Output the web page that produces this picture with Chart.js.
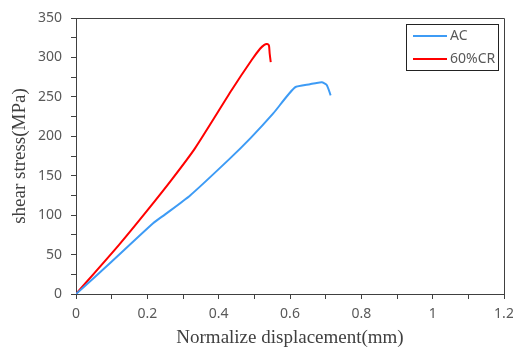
<!DOCTYPE html>
<html>
<head>
<meta charset="utf-8">
<script src="https://cdn.jsdelivr.net/npm/chart.js@4/dist/chart.umd.min.js"></script>
<style>
  html, body { margin: 0; padding: 0; background: #fff; }
  #wrap { width: 513px; height: 349px; }
</style>
</head>
<body>
<div id="wrap"><canvas id="c" width="513" height="349"></canvas></div>
<script>
// AC curve
const acX = [0, 0.095, 0.217, 0.25, 0.32, 0.432, 0.49, 0.553, 0.614, 0.656, 0.689, 0.703, 0.714];
const acY = [0, 39, 90, 101, 125, 172, 198, 229, 262, 266, 268.5, 265, 252];
// 60%CR curve
const crX = [0, 0.12, 0.2, 0.27, 0.334, 0.437, 0.493, 0.516, 0.528, 0.536, 0.541, 0.543, 0.546];
const crY = [0, 62, 106, 146, 185, 259, 297, 311, 316, 317, 315, 305, 294];

const xTickLabels = ['0', '0.2', '0.4', '0.6', '0.8', '1', '1.2'];
const yTickLabels = ['0', '50', '100', '150', '200', '250', '300', '350'];

const pts = (xs, ys) => xs.map((x, i) => ({ x: x, y: ys[i] }));

const axisColor = '#404040';
const tickFont = { family: 'Noto Sans', size: 14 };
const titleFont = { family: 'Liberation Serif', size: 19 };

const boxAndLegend = {
  id: 'boxAndLegend',
  afterDraw(chart) {
    const ctx = chart.ctx;
    const a = chart.chartArea;
    ctx.save();
    ctx.strokeStyle = axisColor;
    ctx.lineWidth = 1;
    ctx.beginPath();
    ctx.moveTo(a.left, a.top + 0.5);
    ctx.lineTo(a.right + 0.5, a.top + 0.5);
    ctx.lineTo(a.right + 0.5, a.bottom);
    ctx.stroke();
    // legend
    ctx.strokeStyle = '#222';
    ctx.strokeRect(406.5, 24.5, 92, 46);
    ctx.font = '14px "Noto Sans"';
    ctx.textBaseline = 'middle';
    ctx.fillStyle = '#595959';
    const rows = [36, 59];
    chart.data.datasets.forEach((ds, i) => {
      ctx.strokeStyle = ds.borderColor;
      ctx.lineWidth = 2;
      ctx.beginPath();
      ctx.moveTo(413, rows[i]);
      ctx.lineTo(447, rows[i]);
      ctx.stroke();
      ctx.fillText(ds.label, 450, rows[i]);
    });
    ctx.restore();
  }
};

new Chart(document.getElementById('c'), {
  type: 'scatter',
  data: {
    datasets: [
      { label: 'AC', data: pts(acX, acY), borderColor: '#3d9bf5', showLine: true, borderWidth: 2, pointRadius: 0, tension: 0.2 },
      { label: '60%CR', data: pts(crX, crY), borderColor: '#ff0000', showLine: true, borderWidth: 2, pointRadius: 0, tension: 0.2 }
    ]
  },
  options: {
    responsive: false,
    animation: false,
    layout: { padding: { left: 0, top: 18, right: 9, bottom: 0 } },
    plugins: { legend: { display: false }, tooltip: { enabled: false } },
    scales: {
      x: {
        type: 'linear', min: 0, max: 1.2,
        afterFit(s) { s.height = 55; s.paddingLeft = 0; s.paddingRight = 0; },
        border: { color: axisColor, width: 1 },
        grid: { drawOnChartArea: false, tickLength: 5, color: axisColor },
        ticks: {
          stepSize: 0.1, maxRotation: 0, autoSkip: false, padding: 7,
          color: '#595959', font: tickFont,
          callback: (v, i) => (i % 2 === 0 ? xTickLabels[i / 2] : '')
        },
        title: { display: true, text: 'Normalize displacement(mm)', color: '#404040', font: titleFont, padding: { top: 0, bottom: 0 } }
      },
      y: {
        type: 'linear', min: 0, max: 350,
        afterFit(s) { s.width = 76; s.paddingTop = 0; s.paddingBottom = 0; },
        border: { color: axisColor, width: 1 },
        grid: { drawOnChartArea: false, tickLength: 5, color: axisColor },
        ticks: {
          stepSize: 25, autoSkip: false, padding: 9,
          color: '#595959', font: tickFont,
          callback: (v, i) => (i % 2 === 0 ? yTickLabels[i / 2] : '')
        },
        title: { display: true, text: 'shear stress(MPa)', color: '#404040', font: titleFont, padding: { top: 9, bottom: 0 } }
      }
    }
  },
  plugins: [boxAndLegend]
});
</script>
</body>
</html>
